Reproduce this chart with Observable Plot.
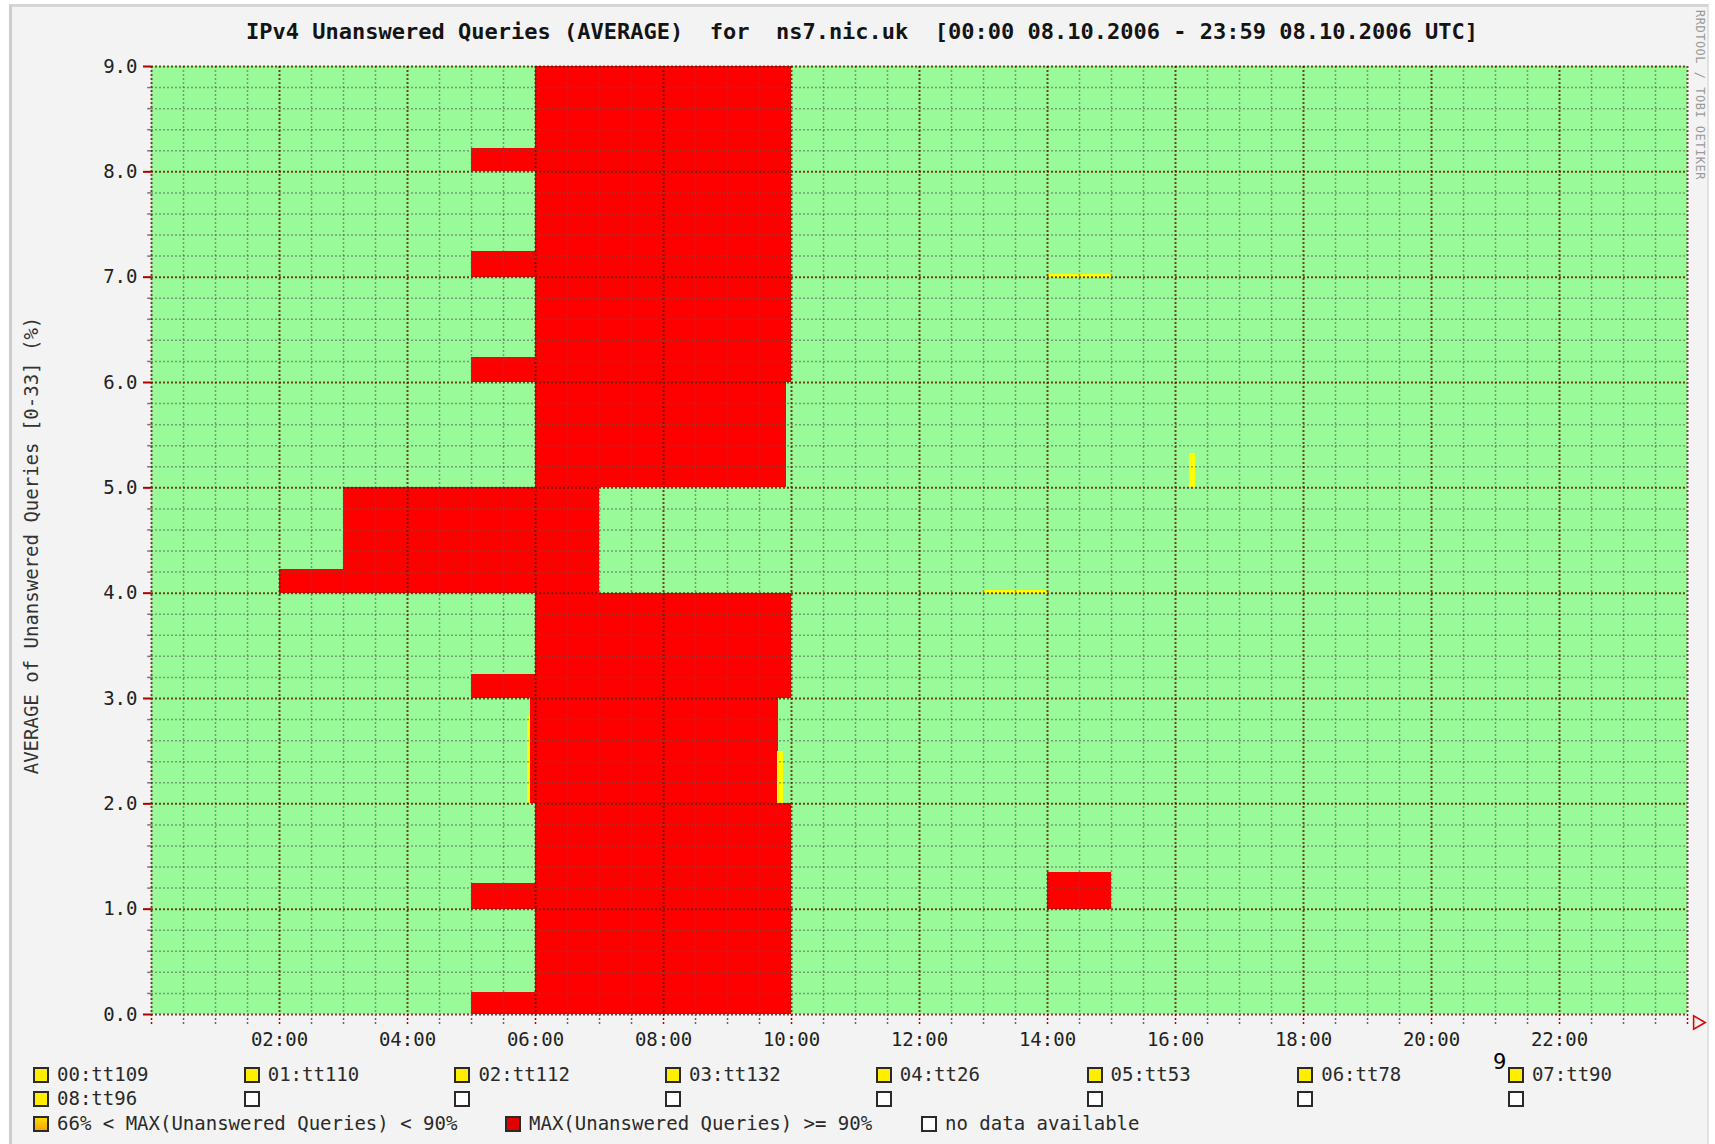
<!DOCTYPE html>
<html><head><meta charset="utf-8">
<script src="https://cdn.jsdelivr.net/npm/d3@7"></script>
<script src="https://cdn.jsdelivr.net/npm/@observablehq/plot@0.6"></script>
<style>
body{margin:0;background:#fff;width:1715px;height:1144px;overflow:hidden;position:relative;font-family:"DejaVu Sans Mono",monospace;}
#panel{position:absolute;left:9px;top:4px;width:1700px;height:1140px;background:#f3f3f3;border-left:3px solid #cdcdcd;border-top:3px solid #d5d5d5;border-right:2px solid #e2e2e2;box-sizing:border-box;}
#title{position:absolute;left:0;width:1724px;top:19px;text-align:center;font:bold 22px "DejaVu Sans Mono";color:#141414;white-space:pre;}
#chart{position:absolute;left:0;top:46px;}
#wm{position:absolute;left:1693px;top:10px;writing-mode:vertical-rl;font:12px "DejaVu Sans Mono";color:#9a9a9a;letter-spacing:0.5px;}
.sq{position:absolute;width:16px;height:16px;box-sizing:border-box;border:2px solid #2a2a2a;}
.lt{position:absolute;font:19px "DejaVu Sans Mono";color:#2a2a2a;line-height:20px;white-space:pre;}
#stray{position:absolute;left:1493px;top:1050px;font:21px "DejaVu Sans";color:#000;}
</style></head>
<body>
<div id="panel"></div>
<div id="title"></div>
<div id="wm">RRDTOOL / TOBI OETIKER</div>
<div id="chart"></div>
<div id="legend"></div>
<div id="stray">9</div>
<script>
// ---------- data ----------
const chartTitle = "IPv4 Unanswered Queries (AVERAGE)  for  ns7.nic.uk  [00:00 08.10.2006 - 23:59 08.10.2006 UTC]";
const yLabel = "AVERAGE of Unanswered Queries [0-33] (%)";
const serverNames = ["00:tt109","01:tt110","02:tt112","03:tt132","04:tt26","05:tt53","06:tt78","07:tt90","08:tt96"];
const dayStart = 0, dayEnd = 24;
const yTicks = [0,1,2,3,4,5,6,7,8,9];
const xLabelHours = [2,4,6,8,10,12,14,16,18,20,22];
const xMajorHours = [0,2,4,6,8,10,12,14,16,18,20,22,24];

// alarm periods (hour start/end, row, fraction of row, level)
const alarmRow    = [0,   0,   1,    1,   1,    2,    2,    2,    3,    3,   4,    4,   4,    5,   5,     6,    6,   7,    7,   7,    8,    8];
const alarmStart  = [5,   6,   5,    6,   14,   5.88, 5.92, 9.78, 5,    6,   2,    3,   13,   6,   16.22, 5,    6,   5,    6,   14,   5,    6];
const alarmEnd    = [6,   10,  6,    10,  15,   5.93, 9.79, 9.87, 6,    10,  3,    7,   14,   9.92,16.32, 6,    10,  6,    10,  15,   6,    10];
const alarmFrac   = [0.21,1,   0.24, 1,   0.35, 0.83, 1,    0.5,  0.23, 1,   0.22, 1,   0.03, 1,   0.33,  0.24, 1,   0.24, 1,   0.03, 0.22, 1];
const alarmLevel  = ["crit","crit","crit","crit","crit","warn","crit","warn","crit","crit","crit","crit","warn","crit","warn","crit","crit","crit","crit","warn","crit","crit"];

const statusLabels = ["66% < MAX(Unanswered Queries) < 90%", "MAX(Unanswered Queries) >= 90%", "no data available"];
const legendSlots = 16;

// ---------- build ----------
document.getElementById("title").textContent = chartTitle;

const rows = serverNames.map((name, i) => ({name, row: i}));
const alarms = alarmRow.map((r, i) => ({row: r, start: alarmStart[i], end: alarmEnd[i], frac: alarmFrac[i], level: alarmLevel[i]}));
const minorY = d3.range(0, 9.0001, 0.2).map(v => +v.toFixed(1)).filter(v => Math.abs(v - Math.round(v)) > 1e-6);
const minorX = d3.range(0, 24.001, 0.5).filter(v => v % 2 !== 0);

const green = "#98fa98";
const minorStyle = {stroke: "#555", strokeOpacity: 0.55, strokeDasharray: "2,2", strokeWidth: 1.5};
const majorStyle = {stroke: "#5a1a00", strokeOpacity: 0.8, strokeDasharray: "2,2", strokeWidth: 2};

const chart = Plot.plot({
  width: 1715, height: 1016,
  marginTop: 20, marginBottom: 48, marginLeft: 151, marginRight: 28,
  style: {background: "transparent", fontFamily: "DejaVu Sans Mono", fontSize: "19px", color: "#222"},
  x: {domain: [dayStart, dayEnd]},
  y: {domain: [yTicks[0], yTicks[yTicks.length - 1]]},
  color: {domain: ["warn", "crit"], range: ["#ffff00", "#ff0000"]},
  marks: [
    Plot.rect(rows, {x1: () => dayStart, x2: () => dayEnd, y1: "row", y2: d => d.row + 1, fill: green, shapeRendering: "crispEdges"}),
    Plot.rect(alarms, {x1: "start", x2: "end", y1: "row", y2: d => d.row + d.frac, fill: "level", shapeRendering: "crispEdges"}),
    Plot.ruleY(minorY, minorStyle),
    Plot.ruleX(minorX, minorStyle),
    Plot.ruleY(yTicks, majorStyle),
    Plot.ruleX(xMajorHours, majorStyle),
    // ticks below the x axis
    Plot.ruleX(minorX, {y1: () => 0, y2: () => -0.1, stroke: "#666", strokeDasharray: "2,2", strokeWidth: 1.5}),
    Plot.ruleX(xMajorHours, {y1: () => 0, y2: () => -0.1, stroke: "#b00000", strokeDasharray: "2,2", strokeWidth: 1.5}),
    // small ticks left of y axis
    Plot.ruleY(minorY, {x1: () => -0.06, x2: () => 0, stroke: "#777", strokeWidth: 1.5}),
    Plot.axisY(yTicks, {tickFormat: d => d.toFixed(1), tickSize: 8, tickPadding: 6, stroke: "#b00000", strokeWidth: 2, fill: "#222", fontSize: 19}),
    Plot.axisX(xLabelHours, {tickFormat: d => String(d).padStart(2, "0") + ":00", tickSize: 0, tickPadding: 18, fill: "#222", fontSize: 19}),
    Plot.text([yLabel], {text: d => d, frameAnchor: "left", textAnchor: "middle", dx: -120, dy: 5, rotate: -90, fontSize: 19, fill: "#333"}),
    Plot.dot([{t: dayEnd, v: 0}], {x: "t", y: "v", symbol: "triangle", rotate: 90, r: 5, stroke: "#e00000", strokeWidth: 1.5, fill: "none", dx: 10, dy: 8})
  ]
});
document.getElementById("chart").appendChild(chart);

// ---------- legend ----------
const legend = document.getElementById("legend");
const colX = i => 33 + i * 210.7;
const rowY = [1075, 1099, 1124];
function addSquare(x, yc, bg) {
  const s = document.createElement("div");
  s.className = "sq"; s.style.left = x + "px"; s.style.top = (yc - 8) + "px"; s.style.background = bg;
  legend.appendChild(s);
}
function addText(x, yc, t) {
  const s = document.createElement("div");
  s.className = "lt"; s.style.left = x + "px"; s.style.top = (yc - 11) + "px"; s.textContent = t;
  legend.appendChild(s);
}
for (let i = 0; i < legendSlots; i++) {
  const c = i % 8, r = Math.floor(i / 8);
  const name = serverNames[i];
  addSquare(colX(c), rowY[r], name ? "#ffee00" : "#ffffff");
  if (name) addText(colX(c) + 24, rowY[r], name);
}
const statusFills = ["linear-gradient(#ffd800,#f0a800)", "#e00000", "#ffffff"];
const statusX = [33, 505, 921];
statusLabels.forEach((t, i) => {
  addSquare(statusX[i], rowY[2], statusFills[i]);
  addText(statusX[i] + 24, rowY[2], t);
});
</script>
</body></html>
